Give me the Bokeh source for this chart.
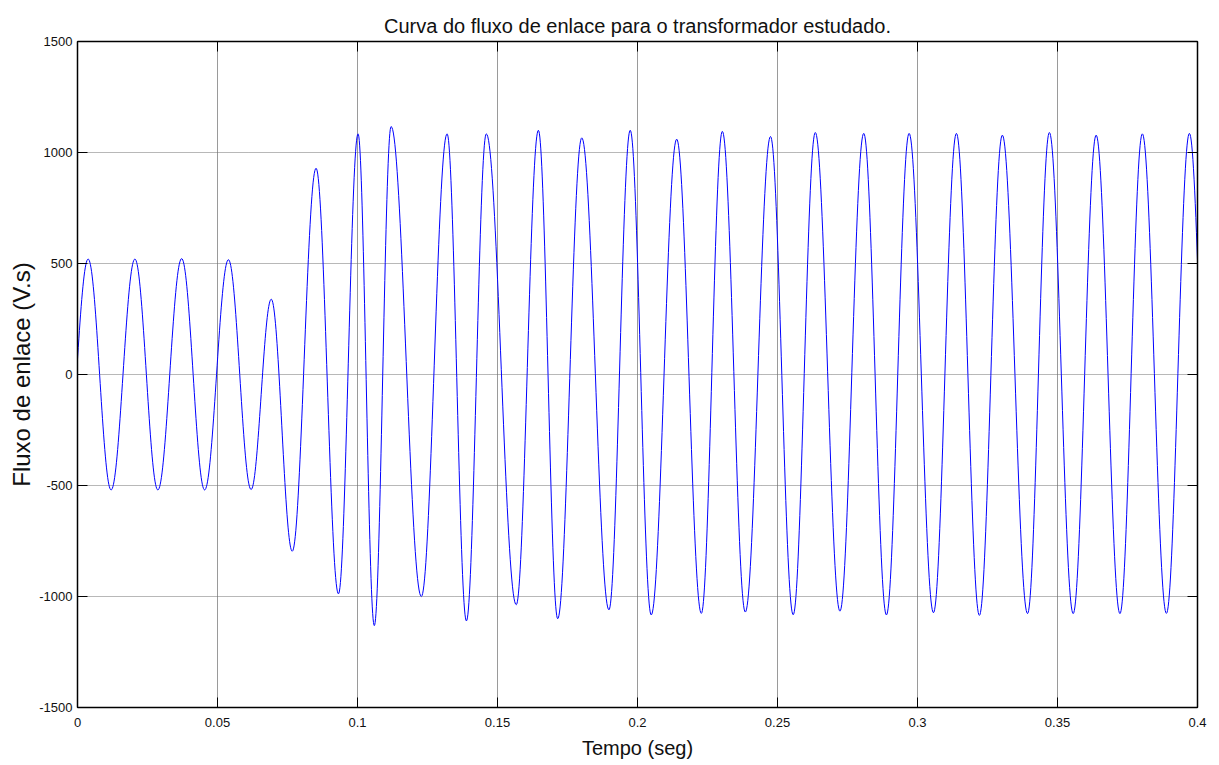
import numpy as np
from bokeh.plotting import figure
from bokeh.models import Range1d, LinearAxis, FixedTicker
from bokeh.embed import file_html
from bokeh.resources import INLINE

# Turning points (time in s, linked flux in V.s).
# First and last entries lie just outside the visible window (0 .. 0.4 s).
ext_t = [-0.0045, 0.0038, 0.0120, 0.0205, 0.0287, 0.0372, 0.0454, 0.0539, 0.0620,
         0.0692, 0.0767, 0.0852, 0.0932, 0.1002, 0.1060, 0.1120, 0.1228, 0.1320,
         0.1389, 0.1460, 0.1567, 0.1646, 0.1715, 0.1801, 0.1898, 0.1974, 0.2049,
         0.2140, 0.2228, 0.2303, 0.2385, 0.2475, 0.2556, 0.2635, 0.2723, 0.2808,
         0.2889, 0.2970, 0.3057, 0.3139, 0.3221, 0.3303, 0.3393, 0.3471, 0.3556,
         0.3638, 0.3723, 0.3803, 0.3889, 0.3971, 0.4055]
ext_v = [-520, 520, -520, 520, -520, 522, -520, 517, -518,
         339, -796, 929, -988, 1084, -1131, 1117, -1000, 1084,
         -1110, 1084, -1037, 1100, -1100, 1066, -1060, 1100, -1083,
         1060, -1076, 1095, -1070, 1072, -1082, 1090, -1066, 1086,
         -1083, 1086, -1073, 1086, -1085, 1078, -1077, 1090, -1077,
         1078, -1077, 1084, -1076, 1086, -1075]

title_text = "Curva do fluxo de enlace para o transformador estudado."
x_label = "Tempo (seg)"
y_label = "Fluxo de enlace (V.s)"
x_ticks = [0, 0.05, 0.1, 0.15, 0.2, 0.25, 0.3, 0.35, 0.4]
x_tick_labels = ["0", "0.05", "0.1", "0.15", "0.2", "0.25", "0.3", "0.35", "0.4"]
y_ticks = [-1500, -1000, -500, 0, 500, 1000, 1500]
y_tick_labels = ["-1500", "-1000", "-500", "0", "500", "1000", "1500"]

# smooth half-wave shape between consecutive turning points
t_parts, v_parts = [], []
for i in range(len(ext_t) - 1):
    t0, t1 = ext_t[i], ext_t[i + 1]
    v0, v1 = ext_v[i], ext_v[i + 1]
    s = np.linspace(0.0, 1.0, 40, endpoint=False)
    t_parts.append(t0 + (t1 - t0) * s)
    v_parts.append((v0 + v1) / 2 + (v0 - v1) / 2 * np.cos(np.pi * s))
t_parts.append(np.array([ext_t[-1]]))
v_parts.append(np.array([ext_v[-1]]))
t_curve = np.concatenate(t_parts)
v_curve = np.concatenate(v_parts)

FONT = "Liberation Sans"

p = figure(width=1219, height=765, output_backend="svg", toolbar_location=None,
           x_range=Range1d(0, 0.4), y_range=Range1d(-1500, 1500),
           min_border_left=77, min_border_right=22, min_border_top=41,
           min_border_bottom=58, background_fill_color="white",
           border_fill_color="white")

p.line(t_curve, v_curve, line_color="#0000ff", line_width=1)

p.title.text = title_text
p.title.align = "center"
p.title.text_font = FONT
p.title.text_font_size = "20px"
p.title.text_font_style = "normal"
p.title.text_color = "#111111"

bottom_ax = p.below[0]
left_ax = p.left[0]

bottom_ax.ticker = FixedTicker(ticks=x_ticks)
bottom_ax.major_label_overrides = dict(zip(x_ticks, x_tick_labels))
bottom_ax.axis_label = x_label
left_ax.ticker = FixedTicker(ticks=y_ticks)
left_ax.major_label_overrides = dict(zip(y_ticks, y_tick_labels))
left_ax.axis_label = y_label

top_ax = LinearAxis(ticker=FixedTicker(ticks=x_ticks))
right_ax = LinearAxis(ticker=FixedTicker(ticks=y_ticks))
p.add_layout(top_ax, "above")
p.add_layout(right_ax, "right")

for ax in [bottom_ax, left_ax, top_ax, right_ax]:
    ax.axis_line_color = "black"
    ax.axis_line_width = 1.5
    ax.major_tick_in = 10
    ax.major_tick_out = 0
    ax.major_tick_line_color = "black"
    ax.major_tick_line_width = 1
    ax.minor_tick_line_color = None
    ax.major_label_text_font = FONT
    ax.major_label_text_font_size = "13px"
    ax.major_label_text_color = "#111111"
    ax.axis_label_text_font = FONT
    ax.axis_label_text_font_style = "normal"
    ax.axis_label_text_color = "#111111"

top_ax.major_label_text_color = None
right_ax.major_label_text_color = None
top_ax.major_label_text_font_size = "1px"
right_ax.major_label_text_font_size = "1px"

bottom_ax.major_label_standoff = 10
bottom_ax.axis_label_text_font_size = "20px"
bottom_ax.axis_label_standoff = 7
left_ax.major_label_standoff = 5
left_ax.axis_label_text_font_size = "24px"
left_ax.axis_label_standoff = 1

p.xgrid.ticker = FixedTicker(ticks=x_ticks)
p.ygrid.ticker = FixedTicker(ticks=y_ticks)
p.xgrid.grid_line_color = "#9a9a9a"
p.xgrid.grid_line_width = 1
p.ygrid.grid_line_color = "#707070"
p.ygrid.grid_line_dash = "1 1"
p.ygrid.grid_line_width = 1

p.outline_line_color = "black"
p.outline_line_width = 1

open("out.html", "w").write(file_html(p, INLINE))
